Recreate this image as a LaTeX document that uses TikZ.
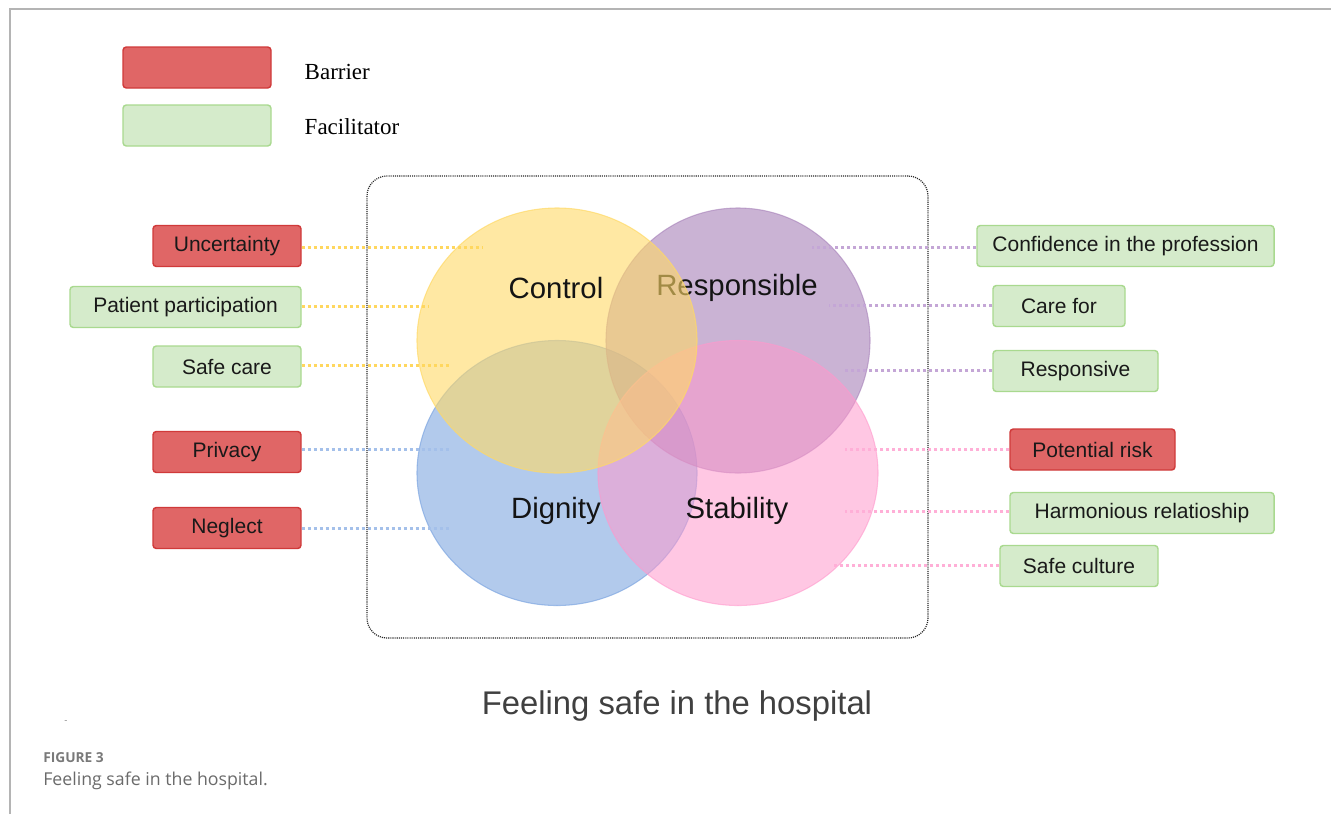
\documentclass[tikz,border=0pt]{standalone}
\usepackage{fontspec}
\setmainfont{Liberation Sans}
\newfontfamily\legendfont{Liberation Serif}
\newfontfamily\capfont{Open Sans}
\usetikzlibrary{shapes.geometric}

\definecolor{barfill}{HTML}{E06666}
\definecolor{barline}{HTML}{D03A3A}
\definecolor{facfill}{HTML}{D5EBCB}
\definecolor{facline}{HTML}{A9D98F}
\definecolor{cyellow}{HTML}{FFD966}
\definecolor{cpurple}{HTML}{A680B8}
\definecolor{cblue}{HTML}{7EA6E0}
\definecolor{cpink}{HTML}{FF99CC}
\definecolor{lyellow}{HTML}{FFD75E}
\definecolor{lpurple}{HTML}{C4A6D6}
\definecolor{lblue}{HTML}{A4C0EA}
\definecolor{lpink}{HTML}{FFAFD7}
\definecolor{framegray}{HTML}{B4B4B4}
\definecolor{titlegray}{HTML}{404040}
\definecolor{capgray}{HTML}{6A6A6A}

\tikzset{
  bw/.style={minimum width=#1*0.75pt},
  tag/.style={rounded corners=2.5pt, line width=1.1pt, inner sep=0pt,
    minimum height=30.75pt, text=black!90,
    font=\fontsize{15.75}{18}\selectfont},
  barrier/.style={tag, draw=barline, fill=barfill},
  facil/.style={tag, draw=facline, fill=facfill},
  link/.style={line width=2.25pt, dash pattern=on 2.25pt off 2.25pt},
  blob/.style={ellipse, inner sep=0pt, line width=0.8pt},
  theme/.style={font=\fontsize{22}{26}\selectfont, text=black!92},
}

\begin{document}
\begin{tikzpicture}[x=0.75pt, y=-0.75pt]
\useasboundingbox (0,0) rectangle (1331,814);

% page rules
\draw[framegray, line width=0.8pt] (10,814) -- (10,9) -- (1331,9);

% legend
\node[barrier, bw=148] (legbar) at (197,67.5) {};
\node[facil, bw=148] (legfac) at (197,125.5) {};
\node[anchor=west, font=\legendfont\fontsize{17.25}{20}\selectfont] (legbartxt) at (300,72) {Barrier};
\node[anchor=west, font=\legendfont\fontsize{17.25}{20}\selectfont] (legfactxt) at (300,127) {Facilitator};

% dotted frame round the four themes
\node[draw=black!85, line width=0.9pt, dash pattern=on 0.8pt off 0.8pt,
      rounded corners=15pt, minimum width=561*0.75pt, minimum height=462*0.75pt,
      inner sep=0pt] (frame) at (647.5,407) {};

% themes
\node[blob, minimum width=280*0.75pt, minimum height=265*0.75pt,
      fill=cblue, fill opacity=0.6, draw=cblue, draw opacity=0.7] (dig) at (557,473) {};
\node[blob, minimum width=264*0.75pt, minimum height=265*0.75pt,
      fill=cpurple, fill opacity=0.6, draw=cpurple, draw opacity=0.6] (res) at (738,340.5) {};
\node[blob, minimum width=280*0.75pt, minimum height=265*0.75pt,
      fill=cpink, fill opacity=0.55, draw=cpink, draw opacity=0.6] (sta) at (738,473) {};
\node[theme] (restxt) at (737,288) {Responsible};
\node[blob, minimum width=280*0.75pt, minimum height=265*0.75pt,
      fill=cyellow, fill opacity=0.6, draw=cyellow, draw opacity=0.7] (con) at (557,340.5) {};
\node[theme] (contxt) at (556,288) {Control};
\node[theme] (digtxt) at (556,511) {Dignity};
\node[theme] (statxt) at (737,511) {Stability};

% left factors
\node[barrier, bw=148] (unc) at (227,246) {Uncertainty};
\node[facil, bw=231] (pat) at (185.5,307) {Patient participation};
\node[facil, bw=148] (safe) at (227,366.5) {Safe care};
\node[barrier, bw=148] (pri) at (227,452) {Privacy};
\node[barrier, bw=148] (neg) at (227,528) {Neglect};

% right factors
\node[facil, bw=297] (conf) at (1125.5,246) {Confidence in the profession};
\node[facil, bw=132] (care) at (1059,306) {Care for};
\node[facil, bw=165] (resp) at (1075.5,371) {Responsive};
\node[barrier, bw=165] (risk) at (1092.5,449.5) {Potential risk};
\node[facil, bw=264] (harm) at (1142,513) {Harmonious relatioship};
\node[facil, bw=158] (cult) at (1079,566) {Safe culture};

% ends of the dotted leaders
\coordinate (eunc) at (483,247.5);
\coordinate (epat) at (429,306.5);
\coordinate (esafe) at (449,365.5);
\coordinate (epri) at (449,449.5);
\coordinate (eneg) at (449,528.5);
\coordinate (econf) at (812,247.5);
\coordinate (ecare) at (829,305.5);
\coordinate (eresp) at (845,370.5);
\coordinate (erisk) at (845,449.5);
\coordinate (eharm) at (845,511.5);
\coordinate (ecult) at (834,565.5);

\draw[link, lyellow] (unc.east |- eunc) -- (eunc);
\draw[link, lyellow] (pat.east |- epat) -- (epat);
\draw[link, lyellow] (safe.east |- esafe) -- (esafe);
\draw[link, lblue] (pri.east |- epri) -- (epri);
\draw[link, lblue] (neg.east |- eneg) -- (eneg);
\draw[link, lpurple] (conf.west |- econf) -- (econf);
\draw[link, lpurple] (care.west |- ecare) -- (ecare);
\draw[link, lpurple] (resp.west |- eresp) -- (eresp);
\draw[link, lpink] (risk.west |- erisk) -- (erisk);
\draw[link, lpink] (harm.west |- eharm) -- (eharm);
\draw[link, lpink] (cult.west |- ecult) -- (ecult);

% title and caption
\node[text=titlegray, font=\fontsize{24.6}{29}\selectfont] (title) at (677,706) {Feeling safe in the hospital};
\node[text=black!45, font=\fontsize{7}{8}\selectfont] (tick) at (66,722) {-};
\node[anchor=west, inner sep=0pt, text=capgray!90, font=\capfont\bfseries\fontsize{10.3}{12}\selectfont] (figno) at (43,758) {FIGURE 3};
\node[anchor=west, inner sep=0pt, text=capgray, font=\capfont\fontsize{13.3}{16}\selectfont] (figcap) at (43,781) {Feeling safe in the hospital.};
\end{tikzpicture}
\end{document}
